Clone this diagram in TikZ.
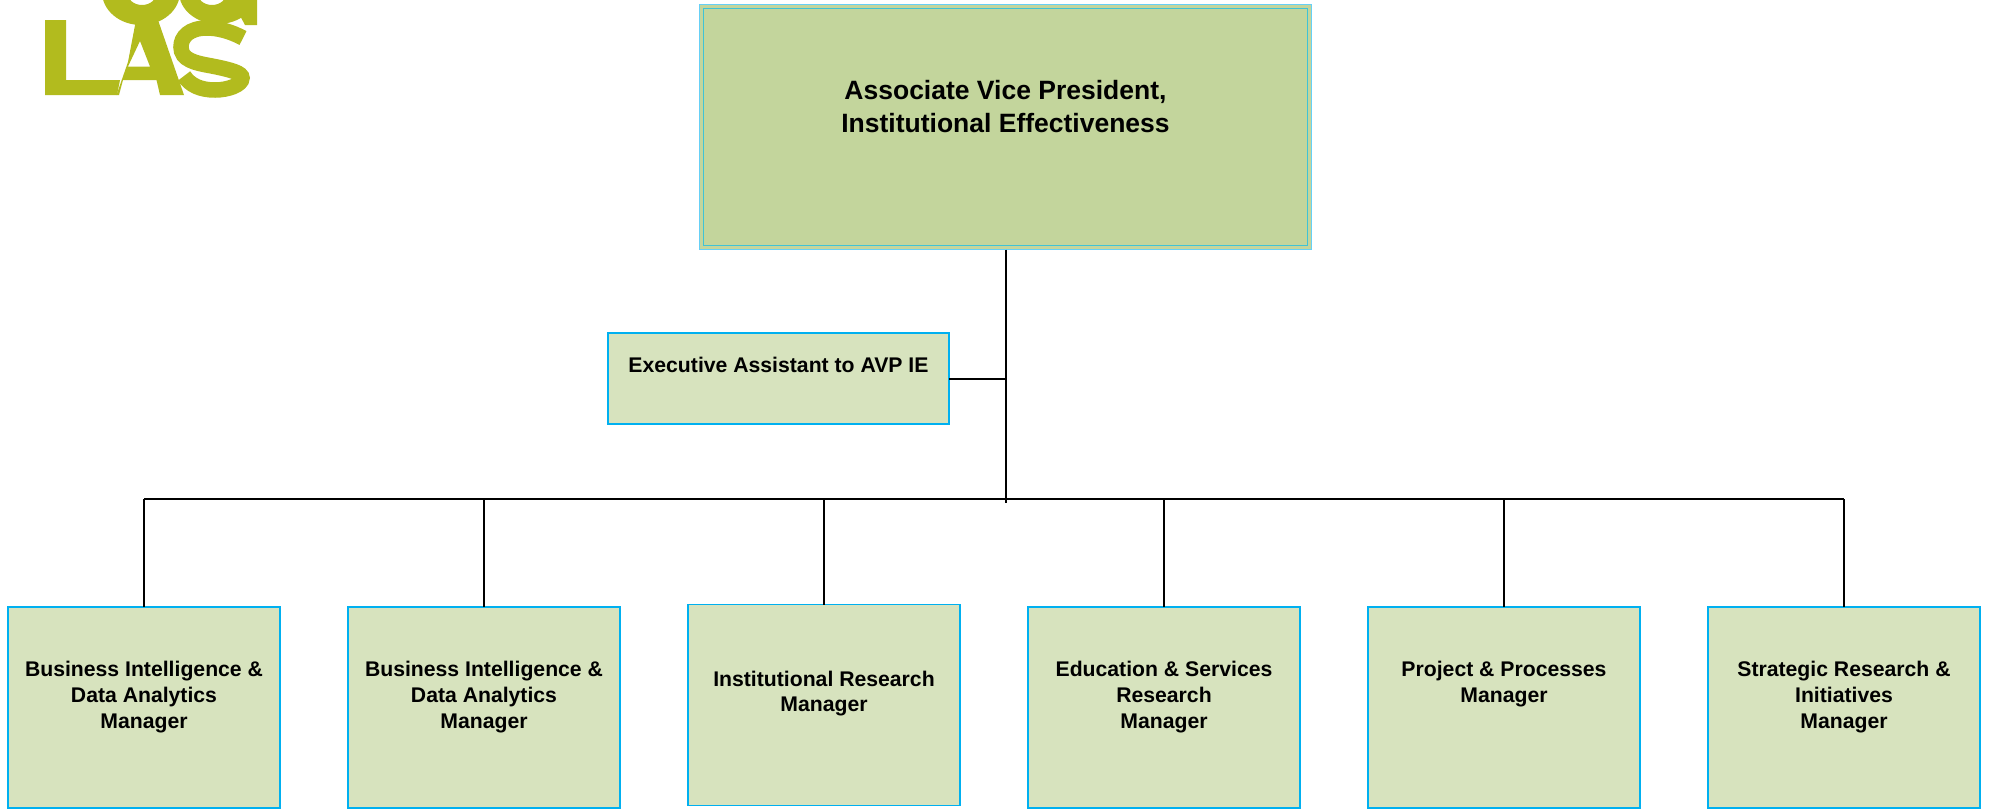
\documentclass[tikz,border=0pt]{standalone}
\usepackage{fontspec}
\setmainfont{Liberation Sans}
\usetikzlibrary{calc}
\definecolor{topfill}{HTML}{C3D59C}
\definecolor{lowfill}{HTML}{D7E3BE}
\definecolor{edgeblue}{HTML}{00B0F0}
\definecolor{edgeteal}{HTML}{3FC3D6}
\definecolor{logoolive}{HTML}{B2BB1E}
\tikzset{
  x=1pt,y=-1pt,
  mgrbox/.style={draw=edgeblue,fill=lowfill,line width=1.7pt,minimum width=272pt,minimum height=201pt,inner sep=0pt,outer sep=0pt},
  asstbox/.style={mgrbox,minimum width=341pt,minimum height=91pt},
  avpbox/.style={draw=edgeblue!60,fill=topfill,line width=1pt,minimum width=612pt,minimum height=245pt,inner sep=0pt,outer sep=0pt},
  mgrtext/.style={font=\fontsize{21.2pt}{25.7pt}\selectfont\bfseries,align=center,inner sep=0pt},
  avptext/.style={font=\fontsize{26.5pt}{33pt}\selectfont\bfseries,align=center,inner sep=0pt},
  link/.style={draw=black,line width=2pt},
  logoink/.style={draw=logoolive,line width=15.5pt}
}
\begin{document}
\begin{tikzpicture}
\useasboundingbox (0,0) rectangle (1989,809);
% logo
\begin{scope}
\clip (0,0) rectangle (300,120);
\fill[logoolive] (45,20)--(66,20)--(66,80)--(120,80)--(117,95)--(45,95)--cycle;
\fill[logoolive,even odd rule] (116.5,95)--(128,62)--(136,20)--(158,20)--(184,95)--(160,95)--(156.5,80)--(123,80)--(119,95)--cycle
  (128,66.5)--(150,66.5)--(140,41)--cycle;
\fill[logoolive,even odd rule] (141,-8) ellipse (39pt and 33pt) (142,-8) ellipse (15pt and 13pt);
\fill[logoolive,even odd rule] (218,-8) ellipse (39pt and 32pt) (212,-8) ellipse (15pt and 13pt);
\fill[logoolive] (245,0)--(257,0)--(257,25)--(245,25)--(238,12)--cycle;
\fill[white] (176,9)--(182,14)--(172,26)--(166,21)--cycle;
\draw[logoink] (243,38) .. controls (230,31) and (217,28) .. (207,28) .. controls (189,28) and (181,37) .. (181,47) .. controls (181,60) and (195,63) .. (212,66) .. controls (232,70) and (242,73) .. (242,78) .. controls (242,85) and (228,90) .. (215,90) .. controls (200,90) and (190,85) .. (184,76);
\end{scope}
% boxes
\node[avpbox] (avp) at (1005.5,127) {};
\draw[edgeteal,line width=1.5pt] ($(avp.north west)+(4,4)$) rectangle ($(avp.south east)+(-4,-4)$);
\node[avptext] (avplabel) at (1005.5,106.5) {Associate Vice President,\\Institutional Effectiveness};
\node[asstbox] (asst) at (778.5,378.5) {};
\node[mgrtext] (asstlabel) at (778.5,365) {Executive Assistant to AVP IE};
\node[mgrbox] (m1) at (144,707.5) {};
\node[mgrbox] (m2) at (484,707.5) {};
\node[mgrbox] (m3) at (824,705) {};
\node[mgrbox] (m4) at (1164,707.5) {};
\node[mgrbox] (m5) at (1504,707.5) {};
\node[mgrbox] (m6) at (1844,707.5) {};
\node[mgrtext] (t1) at (144,697) {Business Intelligence \&\\Data Analytics\\Manager};
\node[mgrtext] (t2) at (484,697) {Business Intelligence \&\\Data Analytics\\Manager};
\node[mgrtext] (t3) at (824,693.5) {Institutional Research\\Manager};
\node[mgrtext] (t4) at (1164,697) {Education \& Services\\Research\\Manager};
\node[mgrtext] (t5) at (1504,684) {Project \& Processes\\Manager};
\node[mgrtext] (t6) at (1844,697) {Strategic Research \&\\Initiatives\\Manager};
% connectors
\coordinate (busend) at (1005.5,503);
\coordinate (busy) at (0,499);
\draw[link] (avp.south) -- (busend);
\draw[link] (asst.east) -- (asst.east -| avp.south);
\draw[link] (busy -| m1.north) -- (busy -| m6.north);
\foreach \m in {m1,m2,m3,m4,m5,m6}{\draw[link] (busy -| \m.north) -- (\m.north);}
\end{tikzpicture}
\end{document}
